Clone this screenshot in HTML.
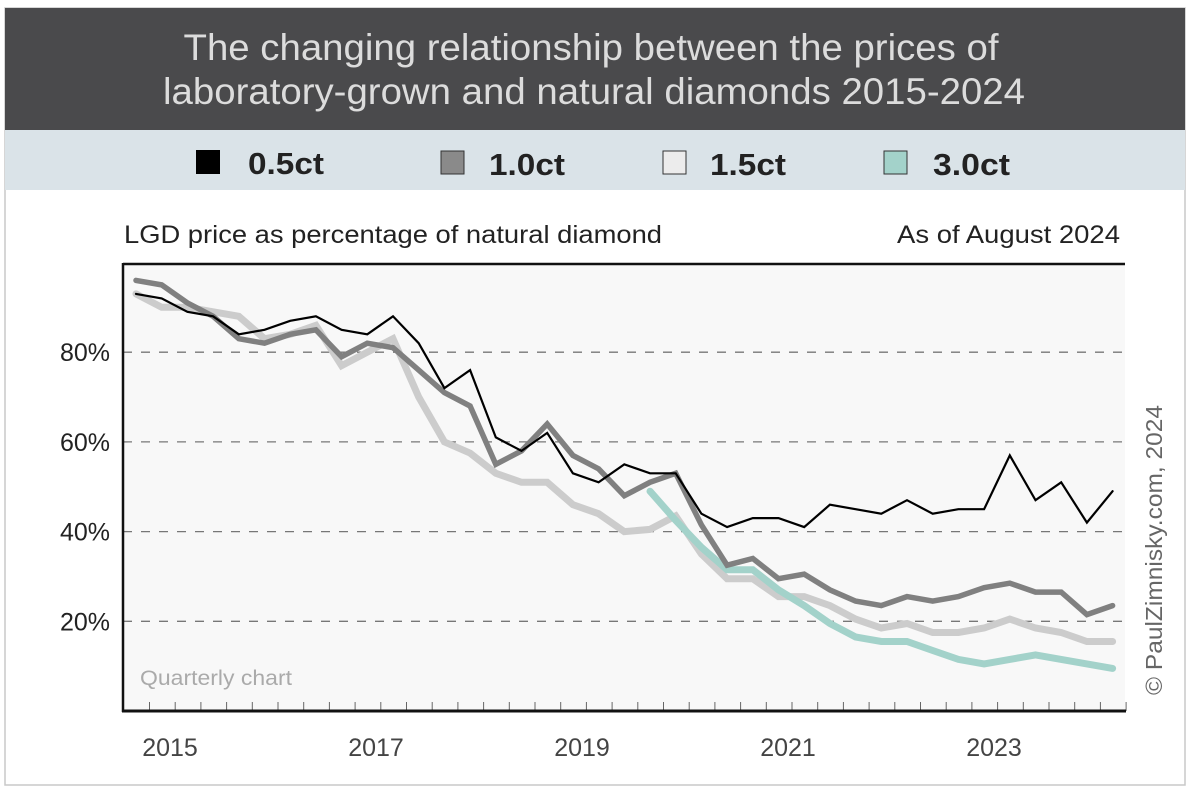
<!DOCTYPE html>
<html><head><meta charset="utf-8">
<style>
html,body{margin:0;padding:0;background:#fff;}
body{width:1191px;height:789px;position:relative;overflow:hidden;font-family:"Liberation Sans",sans-serif;}
</style></head>
<body>
<svg width="1191" height="789" viewBox="0 0 1191 789" xmlns="http://www.w3.org/2000/svg">
<rect x="5" y="8" width="1180" height="777" fill="#fff" stroke="#c8c8c8" stroke-width="1.5"/>
<rect x="5" y="8" width="1180" height="122" fill="#4a4a4c"/>
<text x="591" y="60" text-anchor="middle" font-size="37" fill="#dcdcdc" textLength="815" lengthAdjust="spacingAndGlyphs">The changing relationship between the prices of</text>
<text x="594" y="104" text-anchor="middle" font-size="37" fill="#dcdcdc" textLength="862" lengthAdjust="spacingAndGlyphs">laboratory-grown and natural diamonds 2015-2024</text>
<rect x="5" y="130" width="1180" height="60" fill="#dae3e8"/>
<g>
<rect x="196" y="150" width="24" height="24" fill="#000"/>
<text x="248" y="174" font-size="31" fill="#222" font-weight="bold" textLength="76" lengthAdjust="spacingAndGlyphs">0.5ct</text></g>
<g>
<rect x="441" y="151" width="23" height="23" fill="#8a8a8a" stroke="#333" stroke-width="1"/>
<text x="489" y="175" font-size="31" fill="#222" font-weight="bold" textLength="76" lengthAdjust="spacingAndGlyphs">1.0ct</text></g>
<g>
<rect x="663" y="151" width="23" height="23" fill="#ececec" stroke="#333" stroke-width="1"/>
<text x="710" y="175" font-size="31" fill="#222" font-weight="bold" textLength="76" lengthAdjust="spacingAndGlyphs">1.5ct</text></g>
<g>
<rect x="884" y="151" width="23" height="23" fill="#a3d2ca" stroke="#333" stroke-width="1"/>
<text x="933" y="175" font-size="31" fill="#222" font-weight="bold" textLength="77" lengthAdjust="spacingAndGlyphs">3.0ct</text></g>
<text x="124" y="243" font-size="25" fill="#222" textLength="538" lengthAdjust="spacingAndGlyphs">LGD price as percentage of natural diamond</text>
<text x="897" y="243" font-size="25" fill="#222" textLength="223" lengthAdjust="spacingAndGlyphs">As of August 2024</text>
<rect x="123" y="264" width="1002" height="447" fill="#f8f8f8"/>
<g id="grid"></g>
<g id="ticks"></g>
<g id="series"></g>
<line x1="123" y1="264" x2="1125" y2="264" stroke="#111" stroke-width="2.5"/>
<line x1="123" y1="263" x2="123" y2="712" stroke="#111" stroke-width="2.5"/>
<line x1="122" y1="711" x2="1126" y2="711" stroke="#111" stroke-width="3"/>
<text x="140" y="685" font-size="21" fill="#aaa" textLength="152" lengthAdjust="spacingAndGlyphs">Quarterly chart</text>
<text transform="translate(1162,550) rotate(-90)" text-anchor="middle" font-size="23" fill="#666" textLength="290" lengthAdjust="spacingAndGlyphs">© PaulZimnisky.com, 2024</text>
</svg>
<script>
const yLabels = [20, 40, 60, 80];
const xLabels = ["2015", "2017", "2019", "2021", "2023"];
const s05 = [93,92,89,88,84,85,87,88,85,84,88,82,72,76,61,58,62,53,51,55,53,53,44,41,43,43,41,46,45,44,47,44,45,45,57,47,51,42,49];
const s10 = [96,95,91,88,83,82,84,85,79,82,81,76,71,68,55,58,64,57,54,48,51,53,41.5,32.5,34,29.5,30.5,27,24.5,23.5,25.5,24.5,25.5,27.5,28.5,26.5,26.5,21.5,23.5];
const s15 = [93,90,90,89,88,83,84,86,77,80,83,70,60,57.5,53,51,51,46,44,40,40.5,43.5,35,29.5,29.5,25.5,25.5,23.5,20.5,18.5,19.5,17.5,17.5,18.5,20.5,18.5,17.5,15.5,15.5];
const s30 = [null,null,null,null,null,null,null,null,null,null,null,null,null,null,null,null,null,null,null,null,49,42.5,36.5,31.5,31.5,27,23.5,19.5,16.5,15.5,15.5,13.5,11.5,10.5,11.5,12.5,11.5,10.5,9.5];

const NS = "http://www.w3.org/2000/svg";
const yS = v => 711 - v * 4.485;
const xS = i => 136 + i * 25.7;
const yearX = k => 170 + k * 206;

const grid = document.getElementById('grid');
yLabels.forEach(v => {
  const l = document.createElementNS(NS, 'line');
  l.setAttribute('x1', 123); l.setAttribute('x2', 1125);
  l.setAttribute('y1', yS(v)); l.setAttribute('y2', yS(v));
  l.setAttribute('stroke', '#777'); l.setAttribute('stroke-width', '1.3'); l.setAttribute('stroke-dasharray', '9 9');
  
  
  grid.appendChild(l);
  const t = document.createElementNS(NS, 'text');
  t.setAttribute('x', 110); t.setAttribute('y', yS(v) + 9);
  t.setAttribute('text-anchor', 'end'); t.setAttribute('font-size', '25'); t.setAttribute('fill', '#222');
  t.textContent = v + '%';
  
  
  grid.appendChild(t);
});
const ticks = document.getElementById('ticks');
for (let i = 0; i < s05.length; i++) {
  const l = document.createElementNS(NS, 'line');
  const x = xS(i) + 13.5;
  l.setAttribute('x1', x); l.setAttribute('x2', x);
  l.setAttribute('y1', 702); l.setAttribute('y2', 711);
  l.setAttribute('stroke', '#666'); l.setAttribute('stroke-width', '1');
  
  
  ticks.appendChild(l);
}
xLabels.forEach((lab, k) => {
  const t = document.createElementNS(NS, 'text');
  t.setAttribute('x', yearX(k)); t.setAttribute('y', 756);
  t.setAttribute('text-anchor', 'middle'); t.setAttribute('font-size', '25'); t.setAttribute('fill', '#444');
  t.textContent = lab;
  
  
  ticks.appendChild(t);
});
const series = document.getElementById('series');
function draw(arr, color, w, name) {
  const pts = [];
  arr.forEach((v, i) => { if (v !== null) pts.push(xS(i).toFixed(1) + ',' + yS(v).toFixed(1)); });
  const p = document.createElementNS(NS, 'polyline');
  p.setAttribute('points', pts.join(' '));
  p.setAttribute('fill', 'none'); p.setAttribute('stroke', color); p.setAttribute('stroke-width', w);
  p.setAttribute('stroke-linejoin', 'miter'); p.setAttribute('stroke-linecap', 'round');
  
  
  series.appendChild(p);
}
draw(s15, '#cccccc', 7, 'series-1-5ct');
draw(s30, '#a3d2ca', 7, 'series-3-0ct');
draw(s10, '#808080', 5.5, 'series-1-0ct');
draw(s05, '#000000', 2.2, 'series-0-5ct');
</script>
</body></html>
